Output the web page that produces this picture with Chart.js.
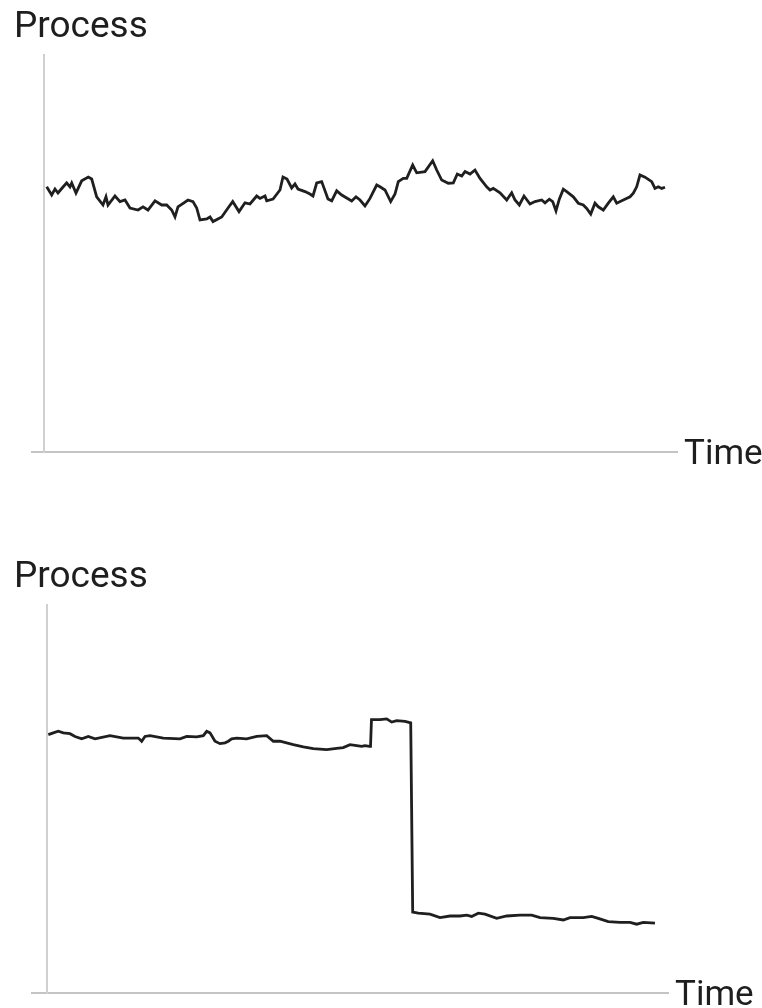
<!DOCTYPE html>
<html>
<head>
<meta charset="utf-8">
<script src="https://cdn.jsdelivr.net/npm/chart.js@4.4.1/dist/chart.umd.min.js"></script>
<style>
  body { margin: 0; background: #fff; }
  canvas { position: absolute; left: 0; }
  #topChart { top: 0; }
  #bottomChart { top: 504px; }
</style>
</head>
<body>
<canvas id="topChart" width="762" height="504"></canvas>
<canvas id="bottomChart" width="762" height="504"></canvas>
<script>
// time / process values (arbitrary units)
const topTime = [0.45, 1.28, 1.83, 2.33, 3.17, 3.78, 4.33, 4.62, 5.33, 6.28, 7.38, 7.95, 8.78, 9.83, 10.33, 10.67, 11.83, 12.67, 13.5, 14.33,
  15.67, 16.5, 17.33, 18.5, 19.62, 20.45, 21.28, 21.83, 22.33, 24, 24.83, 25.45, 26, 27.12, 27.67, 28.17, 29.62, 30.67, 31.45, 32.5,
  33.5, 34.33, 35.45, 36, 36.83, 37.12, 38.17, 39.33, 39.83, 40.5, 41.28, 41.83, 42.33, 43.5, 44.33, 44.83, 45.45, 46.28, 47.33, 47.95,
  48.78, 49.62, 51.28, 52, 52.67, 53.5, 54.33, 55.45, 56, 56.83, 57.78, 58.5, 59.05, 59.88, 60.45, 61.45, 62.12, 63.5, 64.78, 65.45,
  66.28, 67.38, 68.22, 68.88, 69.62, 70.17, 71, 71.83, 72.67, 73.78, 74.33, 74.88, 76, 77.12, 77.95, 78.5, 79.22, 80, 81, 81.83,
  82.95, 83.5, 84.22, 84.78, 85.33, 85.88, 86.55, 87.12, 88.22, 89.05, 89.88, 90.45, 91.12, 91.83, 92.38, 93.22, 94.05, 94.88, 95.45, 96.55,
  97.67, 98.22, 98.78, 99.33, 100.17, 101.28, 101.83, 102.38, 102.95, 103.5];
const topProcess = [66.3, 64.25, 65.75, 64.75, 66.25, 67.3, 66.3, 67.25, 64.75, 67.8, 68.75, 68.25, 63.8, 61.75, 63.8, 61.75, 64, 62.6, 63, 61,
  60.5, 61.3, 60.5, 62.8, 61.75, 61.75, 60.5, 58.8, 61.3, 63, 62.6, 61, 58, 58.25, 58.75, 57.6, 58.75, 61, 62.6, 60.1,
  62.3, 62, 64, 63.4, 64, 62.8, 63.25, 65.5, 68.75, 68.25, 66, 67, 65.75, 65.1, 64.5, 64, 67.25, 67.6, 63.25, 62.8,
  65.3, 64.25, 62.75, 63.8, 63, 61.5, 63.4, 66.75, 66.3, 65.5, 62.6, 64.5, 67.6, 68.4, 68.4, 71.75, 69.8, 70.1, 72.8, 70.5,
  68, 67.2, 67.3, 69.5, 69, 70.1, 69.5, 70.5, 68.4, 66.3, 65.5, 65.9, 64.8, 63, 64.8, 63, 61.75, 64, 62, 62.6,
  63, 62.3, 63.2, 62.6, 60.3, 63.2, 65.7, 65.1, 63.8, 62.2, 61.75, 60.9, 59.5, 62.2, 61.3, 60.5, 62.2, 63.8, 62.2, 63,
  63.8, 64.7, 66.3, 69.25, 68.7, 67.6, 65.9, 66.3, 65.9, 66.2];

const bottomTime = [0.72, 1.55, 2.38, 3.22, 4.33, 5.17, 6.28, 7.38, 8.5, 11, 13.22, 15.72, 16.28, 16.83, 17.67, 19.88, 22.67, 23.78, 25.45, 26.55,
  27.12, 27.67, 28.5, 29.33, 30.17, 30.72, 31.28, 32.12, 33.78, 35.45, 37.12, 38.22, 39.33, 41.55, 43.22, 44.88, 47.12, 48.78, 49.88, 51,
  52.12, 52.95, 53.5, 54.22, 54.42, 54.58, 56, 57.12, 57.95, 58.78, 60.17, 61.12, 61.45, 62.38, 64.33, 66, 67.67, 69.33, 70.45, 71.28,
  72.38, 73.5, 75.45, 77.12, 79.33, 81.28, 82.67, 84.88, 86.55, 87.67, 89.88, 91.28, 92.38, 94.05, 96, 97.67, 98.78, 99.88, 101.83];
const bottomProcess = [64.75, 65.2, 65.6, 65.2, 65, 64.3, 63.7, 64.3, 63.7, 64.5, 63.9, 63.9, 63.1, 64.3, 64.5, 63.9, 63.7, 64.3, 64.2, 64.5,
  65.6, 65.2, 63.1, 62.5, 62.7, 63.1, 63.7, 63.9, 63.7, 64.3, 64.5, 63.1, 63.1, 62.25, 61.7, 61.25, 61, 61.3, 61.5, 62.25,
  62, 61.8, 62, 61.8, 61.8, 68.5, 68.5, 68.7, 67.9, 68.25, 68.1, 67.7, 20.3, 20, 19.75, 18.9, 19.3, 19.3, 19.5, 19.2,
  20, 19.75, 18.7, 19.3, 19.5, 19.5, 18.9, 18.7, 18.3, 18.9, 18.9, 19.2, 18.7, 17.9, 17.7, 17.7, 17.25, 17.7, 17.5];

const yLabel = 'Process';
const xLabel = 'Time';

// draws "Process" over the y axis and "Time" at the end of the x axis
const axisLabels = {
    id: 'axisLabels',
    afterDraw(chart) {
        const ctx = chart.ctx;
        const area = chart.chartArea;
        ctx.save();
        ctx.fillStyle = '#1e1e1e';
        ctx.textAlign = 'left';
        ctx.textBaseline = 'alphabetic';
        ctx.font = '37px Roboto, "Noto Sans", sans-serif';
        ctx.fillText(yLabel, 14, area.top - 18);
        ctx.font = '35px Roboto, "Noto Sans", sans-serif';
        ctx.fillText(xLabel, area.right + 7, area.bottom + 12);
        ctx.restore();
    }
};

function makeChart(id, times, values, yAxisAt, xMax, yMax, padRight, padTop, padBottom) {
    const points = times.map((t, i) => ({ x: t, y: values[i] }));
    return new Chart(document.getElementById(id), {
        type: 'line',
        data: {
            datasets: [{
                data: points,
                borderColor: '#1f1f1f',
                borderWidth: 2.8,
                pointRadius: 0,
                tension: 0,
                fill: false
            }]
        },
        options: {
            responsive: false,
            animation: false,
            events: [],
            layout: { padding: { left: 32, right: padRight, top: padTop, bottom: padBottom } },
            plugins: { legend: { display: false }, tooltip: { enabled: false } },
            scales: {
                x: {
                    type: 'linear',
                    min: -2,
                    max: xMax,
                    grid: { display: false },
                    ticks: { display: false },
                    border: { display: true, color: '#c4c4c4', width: 2 },
                    afterFit: s => { s.height = 0; }
                },
                y: {
                    type: 'linear',
                    min: 0,
                    max: yMax,
                    position: { x: yAxisAt },
                    grid: { display: false },
                    ticks: { display: false },
                    border: { display: true, color: '#d0d0d0', width: 2 },
                    afterFit: s => { s.width = 0; }
                }
            }
        },
        plugins: [axisLabels]
    });
}

document.addEventListener('DOMContentLoaded', function () {
    makeChart('topChart', topTime, topProcess, 0, 105.5, 99.25, 85, 55, 52);
    makeChart('bottomChart', bottomTime, bottomProcess, 0.5, 104, 97.25, 94, 101, 15);
});
</script>
</body>
</html>
